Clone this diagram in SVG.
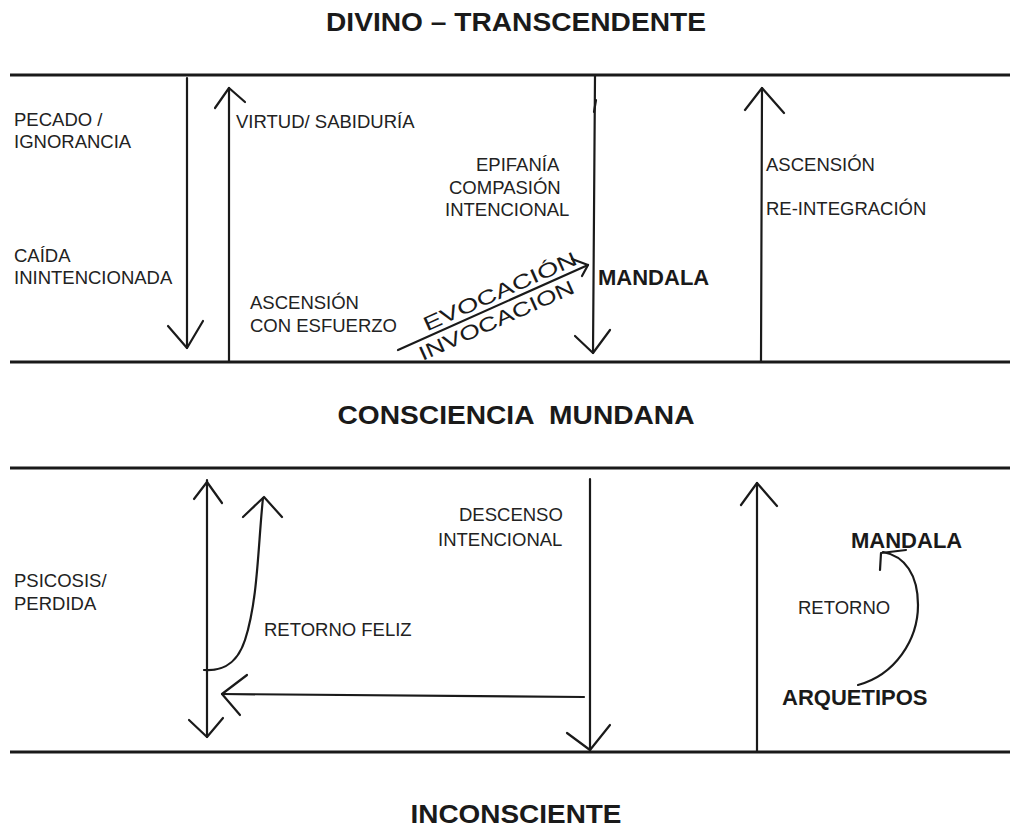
<svg xmlns="http://www.w3.org/2000/svg" width="1010" height="827" viewBox="0 0 1010 827">
<style>
.t{font-family:"Liberation Sans",Arial,sans-serif;font-size:18.5px;fill:#222}
.b{font-family:"Liberation Sans",Arial,sans-serif;font-weight:bold;fill:#1a1a1a}
.h{font-family:"Liberation Sans",Arial,sans-serif;font-size:20px;fill:#1a1a1a}
.ln{stroke:#1a1a1a;stroke-width:3;fill:none}
.ar{stroke:#1a1a1a;stroke-width:2.2;fill:none;stroke-linecap:round;stroke-linejoin:round}
</style>
<rect width="1010" height="827" fill="#fff"/>
<g id="bands">
<line class="ln" x1="10" y1="75" x2="1010" y2="75"/>
<line class="ln" x1="10" y1="362" x2="1010" y2="362"/>
<line class="ln" x1="10" y1="468" x2="1010" y2="468"/>
<line class="ln" x1="10" y1="752" x2="1010" y2="752"/>
</g>
<g id="titles">
<text class="b" x="516" y="31" font-size="26" text-anchor="middle" textLength="380" lengthAdjust="spacingAndGlyphs">DIVINO – TRANSCENDENTE</text>
<text class="b" x="516" y="424" font-size="26" text-anchor="middle" textLength="357" lengthAdjust="spacingAndGlyphs" xml:space="preserve">CONSCIENCIA  MUNDANA</text>
<text class="b" x="516" y="823" font-size="26" text-anchor="middle" textLength="211" lengthAdjust="spacingAndGlyphs">INCONSCIENTE</text>
</g>
<g id="labels-top">
<text class="t" x="14" y="126">PECADO /</text>
<text class="t" x="14" y="148">IGNORANCIA</text>
<text class="t" x="14" y="262">CAÍDA</text>
<text class="t" x="14" y="284">ININTENCIONADA</text>
<text class="t" x="236" y="128">VIRTUD/ SABIDURÍA</text>
<text class="t" x="476" y="171">EPIFANÍA</text>
<text class="t" x="449" y="194">COMPASIÓN</text>
<text class="t" x="445" y="216">INTENCIONAL</text>
<text class="t" x="250" y="309">ASCENSIÓN</text>
<text class="t" x="250" y="332">CON ESFUERZO</text>
<text class="b" x="598" y="285" font-size="22">MANDALA</text>
<text class="t" x="766" y="171">ASCENSIÓN</text>
<text class="t" x="766" y="215">RE-INTEGRACIÓN</text>
<g transform="translate(398,350) rotate(-24.1)">
<text class="h" x="34" y="-5" textLength="166" lengthAdjust="spacingAndGlyphs">EVOCACIÓN</text>
<text class="h" x="18" y="20" textLength="168" lengthAdjust="spacingAndGlyphs">INVOCACION</text>
</g>
</g>
<g id="labels-bottom">
<text class="t" x="459" y="521">DESCENSO</text>
<text class="t" x="438" y="546">INTENCIONAL</text>
<text class="t" x="14" y="587">PSICOSIS/</text>
<text class="t" x="14" y="610">PERDIDA</text>
<text class="t" x="264" y="636">RETORNO FELIZ</text>
<text class="b" x="851" y="548" font-size="22">MANDALA</text>
<text class="t" x="798" y="614">RETORNO</text>
<text class="b" x="782" y="705" font-size="22">ARQUETIPOS</text>
</g>
<g id="connectors">
<line class="ar" x1="187" y1="78" x2="187" y2="348"/>
<polyline class="ar" points="168,326 187,348 203,321"/>
<line class="ar" x1="229" y1="361" x2="229" y2="88"/>
<polyline class="ar" points="215,108 229,88 245,102"/>
<line class="ar" x1="595" y1="76" x2="593" y2="353"/>
<polyline class="ar" points="596,100 594,112"/>
<polyline class="ar" points="575,336 593,353 610,330"/>
<line class="ar" x1="761" y1="362" x2="762" y2="88"/>
<polyline class="ar" points="745,110 762,88 784,113"/>
<line class="ar" x1="398" y1="350" x2="588" y2="265"/>
<polyline class="ar" points="572,259 588,265 582,276"/>
<line class="ar" x1="207" y1="480" x2="207" y2="737"/>
<polyline class="ar" points="194,499 207,482 222,503"/>
<polyline class="ar" points="189,720 207,737 223,718"/>
<path class="ar" d="M204,670 C218,671 236,668 245,640 C258,600 258,545 263,498"/>
<polyline class="ar" points="243,517 264,497 282,517"/>
<line class="ar" x1="584" y1="697" x2="222" y2="694"/>
<polyline class="ar" points="247,675 222,694 240,715"/>
<line class="ar" x1="590" y1="479" x2="590" y2="751"/>
<polyline class="ar" points="567,733 590,750 610,725"/>
<line class="ar" x1="757" y1="751" x2="757" y2="483"/>
<polyline class="ar" points="741,505 757,483 777,506"/>
<path class="ar" d="M858,685 C895,675 918,640 918,605 C918,575 905,556 883,552"/>
<polyline class="ar" points="880,570 881,553 906,550"/>
</g>
</svg>
